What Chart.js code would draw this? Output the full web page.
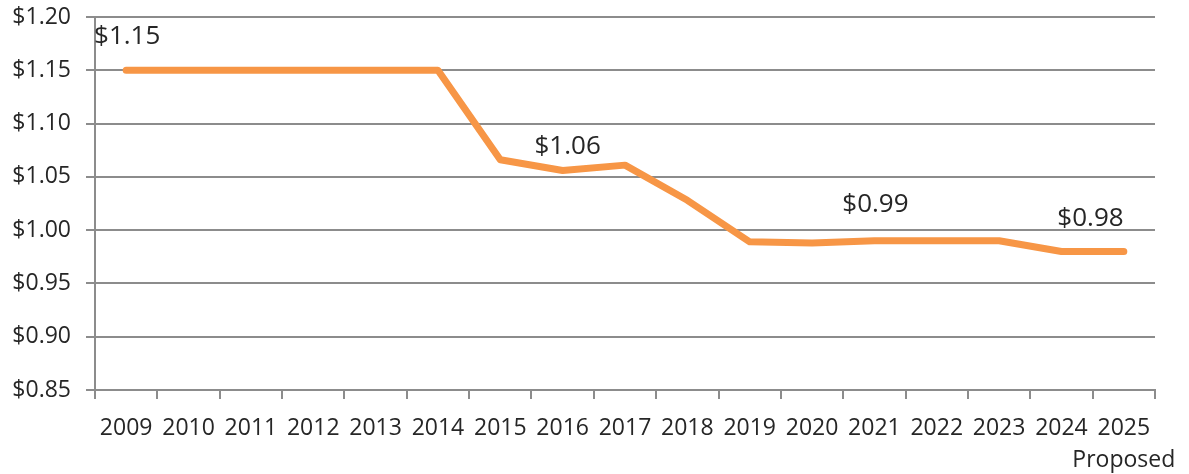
<!DOCTYPE html>
<html>
<head>
<meta charset="utf-8">
<script src="https://cdn.jsdelivr.net/npm/chart.js@4.4.0/dist/chart.umd.min.js"></script>
<style>
html,body{margin:0;padding:0;background:#fff;}
</style>
</head>
<body>
<canvas id="chart" width="1189" height="474"></canvas>
<script>

let years = ["2009","2010","2011","2012","2013","2014","2015","2016","2017","2018","2019","2020","2021","2022","2023","2024",["2025","Proposed"]];

let rates = [1.15,1.15,1.15,1.15,1.15,1.15,1.066,1.056,1.061,1.028,0.989,0.988,0.990,0.990,0.990,0.980,0.980];

let rateLabels = ["$1.15",null,null,null,null,null,null,"$1.06",null,null,null,null,"$0.99",null,null,"$0.98",null];

let yTicks = [0.85,0.90,0.95,1.00,1.05,1.10,1.15,1.20];

let textColor = "#262626";
let gridColor = "#8c8c8c";
let fontFamily = "'Open Sans', sans-serif";

/* label offsets from the point, by index */
let labelShift = {0:[1,-34],7:[5,-24],12:[1,-36],15:[29,-33]};

let pointLabels = {
id:"pointLabels",
afterDatasetsDraw(chart){
let ctx = chart.ctx;
let meta = chart.getDatasetMeta(0);
ctx.save();
ctx.font = "26px " + fontFamily;
ctx.fillStyle = textColor;
ctx.textAlign = "center";
ctx.textBaseline = "middle";
rateLabels.forEach((txt,i) => {
if(!txt) return;
let pt = meta.data[i];
let s = labelShift[i] || [0,-30];
ctx.fillText(txt, pt.x + s[0], pt.y + s[1]);
});
ctx.restore();
}
};

let ctx = document.getElementById("chart").getContext("2d");

let chart = new Chart(ctx,{
type:"line",
data:{
labels:years,
datasets:[{
data:rates,
borderColor:"#f79646",
borderWidth:7,
borderCapStyle:"round",
borderJoinStyle:"round",
pointRadius:0,
tension:0,
fill:false
}]
},
options:{
responsive:false,
animation:false,
layout:{padding:{top:17,right:34,left:0,bottom:0}},
plugins:{
legend:{display:false},
tooltip:{enabled:false}
},
scales:{
x:{
offset:true,
grid:{
offset:true,
drawOnChartArea:false,
drawTicks:true,
tickLength:9,
color:gridColor,
lineWidth:2
},
border:{color:gridColor,width:2},
ticks:{
color:textColor,
font:{family:fontFamily,size:23,lineHeight:1.4},
padding:13,
maxRotation:0,
autoSkip:false
},
afterFit(scale){ scale.height = 84; scale.paddingLeft = 0; scale.paddingRight = 0; }
},
y:{
min:0.85,
max:1.2,
afterBuildTicks(scale){
scale.ticks = yTicks.map(v => ({value:v}));
},
grid:{
drawTicks:true,
tickLength:9,
color:gridColor,
lineWidth:2
},
border:{color:gridColor,width:2},
ticks:{
color:textColor,
font:{family:fontFamily,size:23},
padding:15,
callback:function(v){ return "$" + v.toFixed(2); }
},
afterFit(scale){ scale.width = 95; scale.paddingTop = 0; scale.paddingBottom = 0; }
}
}
},
plugins:[pointLabels]
});

</script>
</body>
</html>
